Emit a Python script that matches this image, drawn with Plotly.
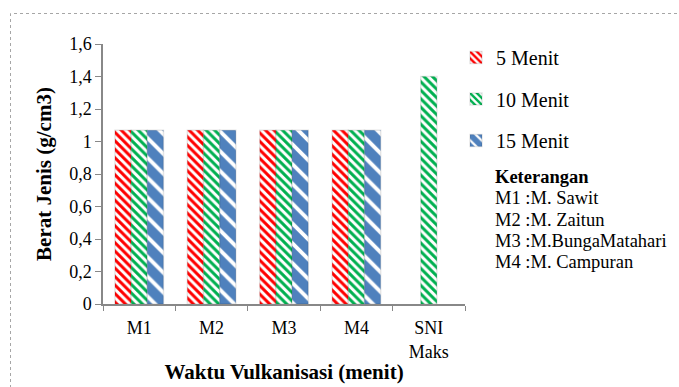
import plotly.graph_objects as go

# Data
categories = ["M1", "M2", "M3", "M4", "SNI<br>Maks"]
series_names = ["5 Menit", "10 Menit", "15 Menit"]
menit_5 = [1.07, 1.07, 1.07, 1.07, None]
menit_10 = [1.07, 1.07, 1.07, 1.07, 1.40]
menit_15 = [1.07, 1.07, 1.07, 1.07, None]
y_ticks = [0, 0.2, 0.4, 0.6, 0.8, 1.0, 1.2, 1.4, 1.6]
keterangan_title = "Keterangan"
keterangan = ["M1 :M. Sawit", "M2 :M. Zaitun", "M3 :M.BungaMatahari", "M4 :M. Campuran"]

colors = ["#FF0000", "#00B050", "#4F81BD"]
pattern_size = [6, 6, 14]
pattern_solidity = [0.5, 0.5, 0.72]

FONT = "Liberation Serif"
W, H = 679, 387
L, R, T, B = 103, 214, 44, 83
PW, PH = W - L - R, H - T - B


def px_x(x):
    return (x - L) / PW


def px_y(y):
    return (H - B - y) / PH


fig = go.Figure()
for i, (name, vals) in enumerate(zip(series_names, [menit_5, menit_10, menit_15])):
    fig.add_trace(go.Bar(
        x=categories, y=vals, name=name, legendgroup=name,
        marker=dict(
            color=colors[i],
            line=dict(color="rgba(0,0,0,0.10)", width=1.5),
            pattern=dict(shape="\\", fgcolor=colors[i], bgcolor="white",
                         size=pattern_size[i], solidity=pattern_solidity[i],
                         fillmode="replace"),
        ),
    ))

fig.update_layout(
    width=W, height=H,
    margin=dict(l=L, r=R, t=T, b=B),
    paper_bgcolor="white", plot_bgcolor="white",
    barmode="group", bargap=0.33, bargroupgap=0,
    separators=",.",
    font=dict(family=FONT, size=18, color="black"),
    legend=dict(
        x=px_x(456), y=px_y(38), xanchor="left", yanchor="top",
        traceorder="grouped", tracegroupgap=12.5,
        font=dict(family=FONT, size=20, color="black"),
        itemwidth=30, bgcolor="rgba(0,0,0,0)",
    ),
    xaxis=dict(
        automargin=False,
        showline=True, linecolor="#888888", linewidth=1.5,
        ticks="outside", tickson="boundaries", ticklen=5, tickcolor="#888888",
        ticklabelstandoff=7,
        tickfont=dict(family=FONT, size=18, color="black"),
        title=dict(text="<b>Waktu Vulkanisasi (menit)</b>", standoff=4,
                   font=dict(family=FONT, size=21, color="black")),
        showgrid=False,
    ),
    yaxis=dict(
        automargin=False,
        range=[0, 1.6], tickvals=y_ticks,
        showline=True, linecolor="#888888", linewidth=1.5,
        ticks="outside", ticklen=6, tickcolor="#888888",
        tickfont=dict(family=FONT, size=18, color="black"),
        title=dict(text="<b>Berat Jenis (g/cm3)</b>", standoff=12,
                   font=dict(family=FONT, size=21, color="black")),
        showgrid=False, zeroline=False,
    ),
)

# Description block beside the legend, one line per annotation
lines = ["<b>" + keterangan_title + "</b>"] + keterangan
line_y = [177, 198, 220, 241, 262]
for text, yc in zip(lines, line_y):
    fig.add_annotation(
        x=px_x(493), y=px_y(yc), xref="paper", yref="paper",
        xanchor="left", yanchor="middle", align="left", showarrow=False,
        text=text, font=dict(family=FONT, size=18.5, color="black"),
    )

# Dotted frame around the chart
fig.add_shape(
    type="rect", xref="paper", yref="paper",
    x0=px_x(10.5), x1=px_x(W + 20), y0=px_y(H + 20), y1=px_y(13.5),
    line=dict(color="#A6A6A6", width=1, dash="dot"),
    fillcolor="rgba(0,0,0,0)", layer="below",
)

fig.write_html("out.html")
